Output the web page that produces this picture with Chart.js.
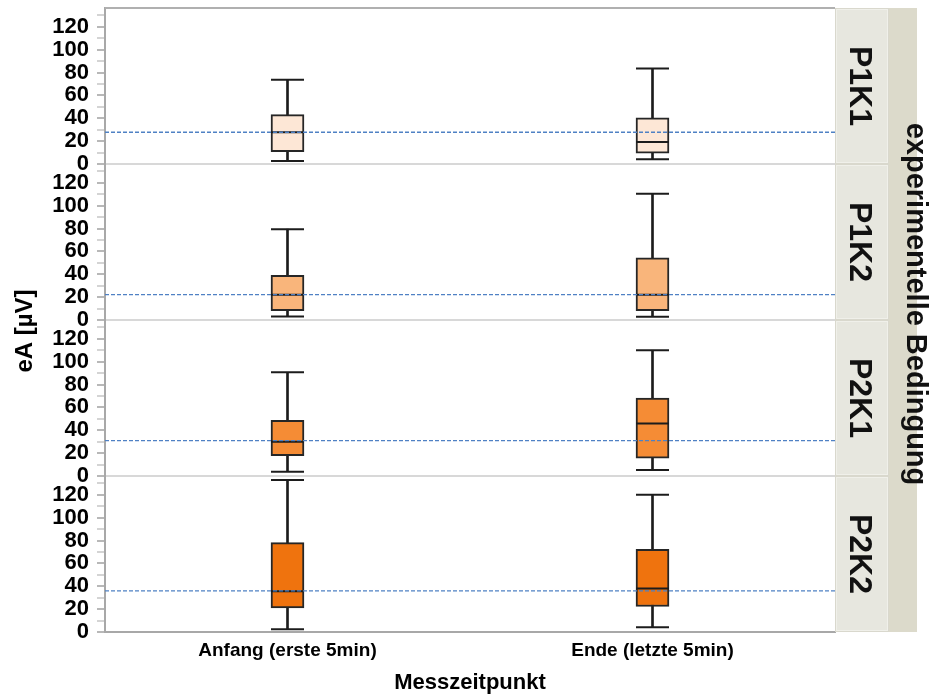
<!DOCTYPE html>
<html><head><meta charset="utf-8">
<script src="https://cdn.jsdelivr.net/npm/chart.js@4.4.1/dist/chart.umd.min.js"></script>
<style>html,body{margin:0;padding:0;background:#fff;}#wrap{width:931px;height:700px;position:relative;}</style>
</head><body><div id="wrap"><canvas id="c" width="931" height="700"></canvas></div>
<script>
// ---- data ----
const categories = ['Anfang (erste 5min)', 'Ende (letzte 5min)'];
const panels = ['P1K1', 'P1K2', 'P2K1', 'P2K2'];
const whiskerLow   = [[2.6, 4.1], [3.0, 2.9], [3.8, 5.3], [2.4, 4.1]];
const q1Values     = [[10.8, 9.4], [8.2, 8.2], [17.8, 15.5], [21.1, 22.3]];
const medianValues = [[27.8, 19.3], [22.2, 22.2], [29.9, 45.9], [35.7, 38.1]];
const q3Values     = [[43.2, 40.4], [39.0, 54.4], [48.8, 68.1], [78.2, 72.3]];
const whiskerHigh  = [[73.7, 83.6], [79.5, 110.5], [90.7, 110.0], [132.9, 120.0]];
const referenceLine = [27.8, 22.2, 31.0, 36.0];
const yTickLabels = [0, 20, 40, 60, 80, 100, 120];
const xAxisTitle = 'Messzeitpunkt';
const yAxisTitle = 'eA [µV]';
const facetTitle = 'experimentelle Bedingung';

// ---- styles ----
const panelColors = ['#fde7d6', '#f9b57b', '#f58c35', '#ef730e'];
const mainFont = "'Liberation Sans', Arial, sans-serif";
const ink = '#1c1c1c';

const datasets = [];
panels.forEach((p, i) => {
  const yID = 'y' + i;
  datasets.push({
    type: 'bar', label: p + ' box', yAxisID: yID, grouped: false, order: 2,
    data: q1Values[i].map((v, j) => [v, q3Values[i][j]]),
    backgroundColor: panelColors[i], borderColor: '#262626', borderWidth: 2,
    borderSkipped: false, barThickness: 33
  });
  datasets.push({
    type: 'bar', label: p + ' whisker', yAxisID: yID, grouped: false, order: 3,
    data: whiskerLow[i].map((v, j) => [v, whiskerHigh[i][j]]),
    backgroundColor: ink, borderWidth: 0, barThickness: 2
  });
  [['median', medianValues[i]], ['low', whiskerLow[i]], ['high', whiskerHigh[i]]].forEach(([name, arr]) => {
    datasets.push({
      type: 'line', label: p + ' ' + name, yAxisID: yID, order: 1,
      data: arr, showLine: false, pointStyle: 'line',
      pointRadius: 16.5, pointHoverRadius: 16.5,
      borderColor: ink, pointBorderColor: ink, pointBorderWidth: 2, borderWidth: 2
    });
  });
});

const scales = {
  x: {
    type: 'category', labels: categories, offset: true, position: 'bottom',
    grid: { display: false, drawTicks: false },
    border: { display: true, color: '#a8a8a8', width: 2 },
    ticks: { color: '#000', padding: 7, font: { family: mainFont, size: 19, weight: 'bold' } },
    title: { display: true, text: xAxisTitle, color: '#000', padding: { top: 0, bottom: 4 },
             font: { family: mainFont, size: 22, weight: 'bold' } },
    afterFit: s => { s.height = 68; s.paddingLeft = 0; s.paddingRight = 0; }
  }
};
panels.forEach((p, i) => {
  scales['y' + i] = {
    type: 'linear', position: 'left', stack: 'facets', stackWeight: 1, weight: panels.length - i,
    min: 0, max: 136.5,
    afterFit: s => { s.width = 105; s.paddingTop = 0; s.paddingBottom = 0; },
    ticks: {
      stepSize: 10, includeBounds: false, autoSkip: false, padding: 8, color: '#000',
      font: { family: mainFont, size: 22, weight: 'bold' },
      callback: v => yTickLabels.includes(v) ? String(v) : ''
    },
    grid: {
      drawOnChartArea: true, lineWidth: 2, tickLength: 8, tickWidth: 1.5,
      color: c => (c.tick && c.tick.value === 0) ? (i === panels.length - 1 ? '#a8a8a8' : '#d8d8d8') : 'rgba(0,0,0,0)',
      tickColor: c => (c.tick && c.tick.value % 20 === 0) ? '#a0a0a0' : '#c6c6c6'
    },
    border: { display: true, color: '#a8a8a8', width: 2 }
  };
});

const facetPlugin = {
  id: 'facets',
  afterDatasetsDraw(chart) {
    const { ctx, chartArea } = chart;
    ctx.save();
    ctx.strokeStyle = '#4f81c4'; ctx.lineWidth = 1.3; ctx.setLineDash([4, 2]);
    panels.forEach((p, i) => {
      const y = chart.scales['y' + i].getPixelForValue(referenceLine[i]);
      ctx.beginPath(); ctx.moveTo(chartArea.left, y); ctx.lineTo(chartArea.right, y); ctx.stroke();
    });
    ctx.restore();
  },
  afterDraw(chart) {
    const { ctx, chartArea } = chart;
    const L = chartArea.left, R = chartArea.right, T = chartArea.top, B = chartArea.bottom;
    ctx.save();
    // top frame line
    ctx.strokeStyle = '#b0b0b0'; ctx.lineWidth = 2;
    ctx.beginPath(); ctx.moveTo(L, T); ctx.lineTo(R, T); ctx.stroke();
    // outer strip
    ctx.fillStyle = '#dcdacb';
    ctx.fillRect(R + 54, T, 28, B - T);
    // inner strip column background
    ctx.fillStyle = '#d9d8cd';
    ctx.fillRect(R, T, 54, B - T);
    panels.forEach((p, i) => {
      const s = chart.scales['y' + i];
      ctx.fillStyle = '#f0f0ea';
      ctx.fillRect(R + 1, s.top + 1, 52, s.bottom - s.top - 2);
      ctx.fillStyle = '#e7e7df';
      ctx.fillRect(R + 2, s.top + 2, 50, s.bottom - s.top - 4);
      ctx.save();
      ctx.translate(R + 24, (s.top + s.bottom) / 2);
      ctx.rotate(Math.PI / 2);
      ctx.fillStyle = '#111'; ctx.textAlign = 'center'; ctx.textBaseline = 'middle';
      ctx.font = "bold 32px " + mainFont;
      ctx.fillText(p, 0, 0);
      ctx.restore();
    });
    // facet title
    ctx.save();
    ctx.translate(R + 80, (T + B) / 2 - 16);
    ctx.rotate(Math.PI / 2);
    ctx.fillStyle = '#111'; ctx.textAlign = 'center'; ctx.textBaseline = 'middle';
    ctx.font = "bold 29px " + mainFont;
    ctx.fillText(facetTitle, 0, 0);
    ctx.restore();
    // y axis title
    ctx.save();
    ctx.translate(25, (T + B) / 2 + 11);
    ctx.rotate(-Math.PI / 2);
    ctx.fillStyle = '#000'; ctx.textAlign = 'center'; ctx.textBaseline = 'middle';
    ctx.font = "bold 24px " + mainFont;
    ctx.fillText(yAxisTitle, 0, 0);
    ctx.restore();
    ctx.restore();
  }
};

new Chart(document.getElementById('c'), {
  data: { labels: categories, datasets },
  options: {
    responsive: false, devicePixelRatio: 1, animation: false,
    layout: { autoPadding: false, padding: { top: 8, right: 96, left: 0, bottom: 0 } },
    plugins: { legend: { display: false }, tooltip: { enabled: false } },
    scales
  },
  plugins: [facetPlugin]
});
</script></body></html>
